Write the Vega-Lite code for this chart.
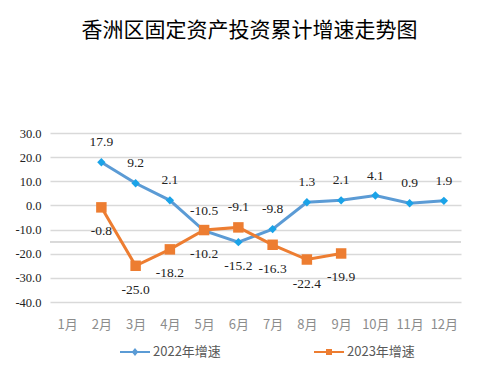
{
  "$schema": "https://vega.github.io/schema/vega-lite/v6.json",
  "width": 411,
  "height": 169,
  "autosize": "none",
  "padding": {"left": 50, "top": 133, "right": 31, "bottom": 73},
  "background": "white",
  "title": {
    "text": "香洲区固定资产投资累计增速走势图",
    "font": "Noto Sans CJK SC",
    "fontSize": 21,
    "fontWeight": "normal",
    "color": "#000000",
    "anchor": "middle",
    "baseline": "middle",
    "offset": 75,
    "dx": -6
  },
  "config": {
    "locale": {"number": {"decimal": ".", "thousands": ",", "grouping": [3], "currency": ["", ""], "minus": "-"}},
    "view": {"stroke": null}
  },
  "data": {
    "values": [
      {"month": "2月", "series": "2022年增速", "value": 17.9},
      {"month": "3月", "series": "2022年增速", "value": 9.2},
      {"month": "4月", "series": "2022年增速", "value": 2.1},
      {"month": "5月", "series": "2022年增速", "value": -10.5},
      {"month": "6月", "series": "2022年增速", "value": -15.2},
      {"month": "7月", "series": "2022年增速", "value": -9.8},
      {"month": "8月", "series": "2022年增速", "value": 1.3},
      {"month": "9月", "series": "2022年增速", "value": 2.1},
      {"month": "10月", "series": "2022年增速", "value": 4.1},
      {"month": "11月", "series": "2022年增速", "value": 0.9},
      {"month": "12月", "series": "2022年增速", "value": 1.9},
      {"month": "2月", "series": "2023年增速", "value": -0.8},
      {"month": "3月", "series": "2023年增速", "value": -25.0},
      {"month": "4月", "series": "2023年增速", "value": -18.2},
      {"month": "5月", "series": "2023年增速", "value": -10.2},
      {"month": "6月", "series": "2023年增速", "value": -9.1},
      {"month": "7月", "series": "2023年增速", "value": -16.3},
      {"month": "8月", "series": "2023年增速", "value": -22.4},
      {"month": "9月", "series": "2023年增速", "value": -19.9}
    ]
  },
  "encoding": {
    "x": {
      "field": "month",
      "type": "ordinal",
      "sort": ["1月","2月","3月","4月","5月","6月","7月","8月","9月","10月","11月","12月"],
      "scale": {"domain": ["1月","2月","3月","4月","5月","6月","7月","8月","9月","10月","11月","12月"], "type": "point", "padding": 0.5},
      "axis": {
        "title": null,
        "labelAngle": 0,
        "labelFont": "Noto Sans CJK SC",
        "labelFontSize": 13,
        "labelColor": "#8c8c8c",
        "labelPadding": 16,
        "domain": false,
        "ticks": false,
        "grid": false
      }
    },
    "y": {
      "field": "value",
      "type": "quantitative",
      "scale": {"domain": [-40, 30], "nice": false, "zero": false},
      "axis": {
        "title": null,
        "values": [-40, -30, -20, -10, 0, 10, 20, 30],
        "format": ".1f",
        "labelFont": "Liberation Serif",
        "labelFontSize": 12.5,
        "labelColor": "#222222",
        "labelPadding": 9,
        "domain": false,
        "ticks": false,
        "grid": true,
        "gridColor": "#d9d9d9",
        "gridWidth": 1.5
      }
    }
  },
  "layer": [
    {
      "mark": {"type": "rule", "color": "#d9d9d9", "strokeWidth": 1.5},
      "encoding": {"y": {"datum": -15}, "x": null}
    },
    {
      "mark": {"type": "line", "strokeWidth": 3},
      "encoding": {
        "color": {
          "field": "series",
          "type": "nominal",
          "scale": {"domain": ["2022年增速", "2023年增速"], "range": ["#5b9bd5", "#ed7d31"]}
        }
      }
    },
    {
      "transform": [{"filter": "datum.series == '2022年增速'"}],
      "mark": {"type": "point", "filled": true, "opacity": 1, "shape": "diamond", "size": 70, "color": "#1aa3e8"}
    },
    {
      "transform": [{"filter": "datum.series == '2023年增速'"}],
      "mark": {"type": "point", "filled": true, "opacity": 1, "shape": "square", "size": 110, "color": "#ed7d31"}
    },
    {
      "transform": [{"filter": "datum.value > 1000"}],
      "mark": {"type": "point", "filled": true, "opacity": 1, "size": 900},
      "encoding": {
        "color": {
          "field": "series",
          "type": "nominal",
          "legend": {
            "orient": "none",
            "legendX": 70,
            "legendY": 204,
            "direction": "horizontal",
            "title": null,
            "columns": 2,
            "columnPadding": 93,
            "padding": 0,
            "labelFont": "Noto Sans CJK SC",
            "labelFontSize": 13,
            "labelColor": "#595959",
            "labelOffset": 3,
            "symbolSize": 900,
            "symbolOpacity": 1,
            "symbolStrokeWidth": 0
          }
        },
        "shape": {
          "field": "series",
          "type": "nominal",
          "scale": {"domain": ["2022年增速", "2023年增速"], "range": ["M-1,-0.06H1V0.06H-1Z M0,-0.27L0.22,0L0,0.27L-0.22,0Z", "M-1,-0.06H1V0.06H-1Z M-0.2,-0.2H0.2V0.2H-0.2Z"]}
        }
      }
    },
    {
      "transform": [{"filter": "(datum.series == '2022年增速' && datum.month != '6月') || (datum.series == '2023年增速' && datum.month == '6月')"}],
      "mark": {"type": "text", "dy": -20, "font": "Liberation Serif", "fontSize": 13.5, "color": "#222222"},
      "encoding": {"text": {"field": "value", "type": "quantitative", "format": ".1f"}}
    },
    {
      "transform": [{"filter": "!((datum.series == '2022年增速' && datum.month != '6月') || (datum.series == '2023年增速' && datum.month == '6月'))"}],
      "mark": {"type": "text", "dy": 24, "font": "Liberation Serif", "fontSize": 13.5, "color": "#222222"},
      "encoding": {"text": {"field": "value", "type": "quantitative", "format": ".1f"}}
    }
  ]
}
